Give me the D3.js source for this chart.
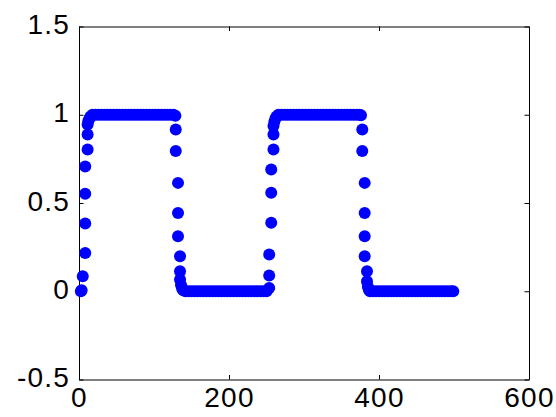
<!DOCTYPE html>
<html>
<head>
<meta charset="utf-8">
<script src="https://cdn.jsdelivr.net/npm/d3@7/dist/d3.min.js"></script>
<style>
  html, body { margin: 0; padding: 0; background: #ffffff; }
  svg { display: block; }
  text { font-family: "Liberation Sans", Arial, Helvetica, sans-serif; }
</style>
</head>
<body>
<svg id="chart" width="556" height="417"></svg>
<script>
// ---- data ----
const xValues = [
  // rising edge 1
  2.5, 3.5, 5, 8.3, 8.3, 8.3, 8.3, 11.5, 11.5, 11.5, 12.5, 14, 15.5,
  // top plateau 1
  18, 22, 26, 30, 34, 38, 42, 46, 50, 54, 58, 62, 66, 70, 74, 78, 82, 86, 90, 94, 98, 102, 106, 110, 114, 118, 122, 126,
  // falling edge 1
  128.5, 129, 129, 132, 132, 132, 134.7, 134.7, 134.7, 136, 137.5, 139,
  // bottom plateau 1
  142, 146, 150, 154, 158, 162, 166, 170, 174, 178, 182, 186, 190, 194, 198, 202, 206, 210, 214, 218, 222, 226, 230, 234, 238, 242, 246, 250,
  // rising edge 2
  253.6, 253.6, 253.6, 256.3, 256.3, 256.3, 259.3, 259.3, 259.3, 260.5, 262, 263.5,
  // top plateau 2
  266, 270, 274, 278, 282, 286, 290, 294, 298, 302, 306, 310, 314, 318, 322, 326, 330, 334, 338, 342, 346, 350, 354, 358, 362, 366, 370, 374,
  // falling edge 2
  376, 377.7, 377.7, 380.9, 380.9, 380.9, 380.9, 384, 384, 385.2, 386.4,
  // bottom plateau 2
  388, 392, 396, 400, 404, 408, 412, 416, 420, 424, 428, 432, 436, 440, 444, 448, 452, 456, 460, 464, 468, 472, 476, 480, 484, 488, 492, 496, 499
];
const yValues = [
  0, 0.005, 0.085, 0.217, 0.384, 0.552, 0.707, 0.803, 0.888, 0.945, 0.965, 0.98, 0.99,
  1, 1, 1, 1, 1, 1, 1, 1, 1, 1, 1, 1, 1, 1, 1, 1, 1, 1, 1, 1, 1, 1, 1, 1, 1, 1, 1, 1,
  0.995, 0.917, 0.794, 0.614, 0.444, 0.311, 0.198, 0.113, 0.066, 0.035, 0.015, 0.005,
  0, 0, 0, 0, 0, 0, 0, 0, 0, 0, 0, 0, 0, 0, 0, 0, 0, 0, 0, 0, 0, 0, 0, 0, 0, 0, 0, 0,
  0.019, 0.089, 0.208, 0.388, 0.558, 0.69, 0.803, 0.888, 0.936, 0.96, 0.98, 0.99,
  1, 1, 1, 1, 1, 1, 1, 1, 1, 1, 1, 1, 1, 1, 1, 1, 1, 1, 1, 1, 1, 1, 1, 1, 1, 1, 1, 1,
  0.997, 0.917, 0.794, 0.614, 0.444, 0.311, 0.198, 0.113, 0.056, 0.025, 0.008,
  0, 0, 0, 0, 0, 0, 0, 0, 0, 0, 0, 0, 0, 0, 0, 0, 0, 0, 0, 0, 0, 0, 0, 0, 0, 0, 0, 0, 0
];
const xTicks = [0, 200, 400, 600];
const xTickLabels = ["0", "200", "400", "600"];
const yTicks = [-0.5, 0, 0.5, 1, 1.5];
const yTickLabels = ["-0.5", "0", "0.5", "1", "1.5"];
const xDomain = [0, 600];
const yDomain = [-0.5, 1.5];

// ---- layout ----
const W = 556, H = 417;
const plot = { left: 79, right: 529, top: 26.5, bottom: 379.5 };
const svg = d3.select("#chart");
svg.append("rect").attr("width", W).attr("height", H).attr("fill", "#ffffff");

const x = d3.scaleLinear().domain(xDomain).range([plot.left, plot.right]);
const y = d3.scaleLinear().domain(yDomain).range([plot.bottom, plot.top]);

const tickLen = 4.5;
const fontSize = 28;
const letterSpacing = 1.2;

const xAxisBottom = d3.axisBottom(x).tickValues(xTicks).tickSizeInner(-tickLen).tickSizeOuter(0)
  .tickFormat((d, i) => xTickLabels[i]).tickPadding(8);
const xAxisTop = d3.axisTop(x).tickValues(xTicks).tickSizeInner(-tickLen).tickSizeOuter(0).tickFormat("");
const yAxisLeft = d3.axisLeft(y).tickValues(yTicks).tickSizeInner(-tickLen).tickSizeOuter(0)
  .tickFormat((d, i) => yTickLabels[i]).tickPadding(9);
const yAxisRight = d3.axisRight(y).tickValues(yTicks).tickSizeInner(-tickLen).tickSizeOuter(0).tickFormat("");

function styleAxis(g) {
  g.attr("font-family", null).attr("font-size", null);
  g.selectAll("path.domain").attr("stroke", "#000").attr("stroke-width", 1);
  g.selectAll(".tick line").attr("stroke", "#000").attr("stroke-width", 1);
  g.selectAll(".tick text").attr("fill", "#000").style("font-size", fontSize + "px")
    .style("letter-spacing", letterSpacing + "px")
    .style("font-family", '"Liberation Sans", Arial, Helvetica, sans-serif');
}

svg.append("g").attr("transform", `translate(0,${plot.bottom})`).call(xAxisBottom).call(styleAxis);
svg.append("g").attr("transform", `translate(0,${plot.top})`).call(xAxisTop).call(styleAxis);
const gy = svg.append("g").attr("transform", `translate(${plot.left},0)`).call(yAxisLeft).call(styleAxis);
gy.selectAll(".tick text").attr("dy", "0.25em");
svg.append("g").attr("transform", `translate(${plot.right},0)`).call(yAxisRight).call(styleAxis);

// points
const pts = xValues.map((xv, i) => ({ x: xv, y: yValues[i] }));
svg.append("g").selectAll("circle").data(pts).join("circle")
  .attr("cx", d => x(d.x))
  .attr("cy", d => y(d.y))
  .attr("r", 6)
  .attr("fill", "#0000ff");
</script>
</body>
</html>
